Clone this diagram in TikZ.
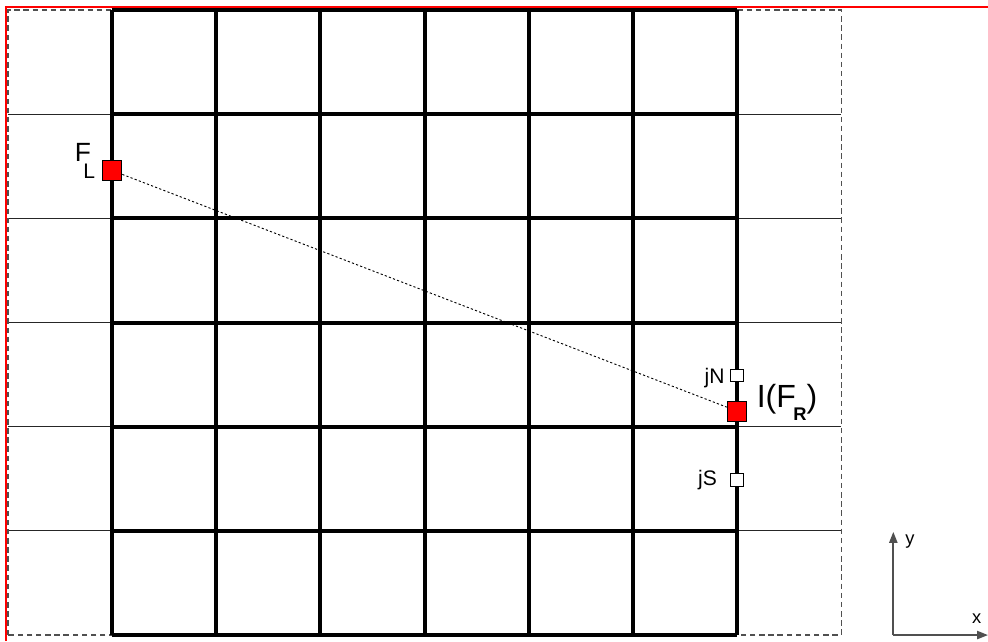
\documentclass[tikz,border=0pt]{standalone}
\usepackage{fontspec}
\setmainfont{Liberation Sans}
\usetikzlibrary{arrows.meta, positioning}
\definecolor{Mark_Red}{HTML}{FF0000}
\definecolor{Axis_Gray}{HTML}{505050}

\tikzset{
  cellline/.style={line width=2.2pt, black},
  haloline/.style={line width=0.6pt, black!85},
  facemark/.style={draw=black, fill=Mark_Red, line width=0.5pt, minimum size=10.8pt, inner sep=0pt},
  stencilmark/.style={draw=black, fill=white, line width=0.5pt, minimum size=6.8pt, inner sep=0pt},
  axisline/.style={Axis_Gray, line width=0.9pt, -{Triangle[length=6pt,width=4.5pt]}},
}

\begin{document}
\begin{tikzpicture}[scale=2]
    \useasboundingbox (-1.075,-0.058) rectangle (8.409,6.096);

    % outer red edge
    \draw[Mark_Red, line width=1.1pt] (-1.018,-0.058) -- (-1.018,6.03) -- (8.409,6.03);

    % halo rows (thin) and halo boundary (dashed)
    \foreach \y in {1,...,5} {
        \draw[haloline] (-1,\y) -- (7,\y);
    }
    \draw[dashed, Axis_Gray, line width=0.8pt, dash pattern=on 3pt off 2pt] (-1,0) rectangle (7,6);

    % interior cells
    \draw[cellline] (0,0) grid (6,6);

    % faces
    \node[facemark] (FL) at (0,4.46) {};
    \node[facemark] (FR) at (6,2.15) {};
    \node[stencilmark] (jN) at (6,2.49) {};
    \node[stencilmark] (jS) at (6,1.49) {};
    \draw[line width=0.5pt, dash pattern=on 1.2pt off 1.2pt] (FL) -- (FR);

    % labels
    \node[inner sep=0pt] (FLlabel) at (-0.26,4.55) {\fontsize{14.4}{16}\selectfont F\kern-4.2pt\raisebox{-9pt}{\fontsize{11.5}{12}\selectfont L}};
    \node[inner sep=0pt] (FRlabel) at (6.48,2.23) {\fontsize{17.5}{19}\selectfont I(F\kern-1.4pt\raisebox{-7pt}{\bfseries\fontsize{10}{11}\selectfont R})};
    \node[inner sep=0pt] (jNlabel) at (5.784,2.47) {\fontsize{11.5}{12}\selectfont jN};
    \node[inner sep=0pt] (jSlabel) at (5.716,1.49) {\fontsize{11.5}{12}\selectfont jS};

    % axes
    \coordinate (origin) at (7.5,0);
    \coordinate (yend) at (7.5,0.99);
    \coordinate (xend) at (8.409,0);
    \draw[axisline] (origin) -- (yend);
    \draw[axisline] (origin) -- (xend);
    \node[inner sep=0pt] (ylabel) at (7.66,0.90) {\fontsize{10}{12}\selectfont y};
    \node[inner sep=0pt] (xlabel) at (8.30,0.16) {\fontsize{10}{12}\selectfont x};
\end{tikzpicture}
\end{document}
